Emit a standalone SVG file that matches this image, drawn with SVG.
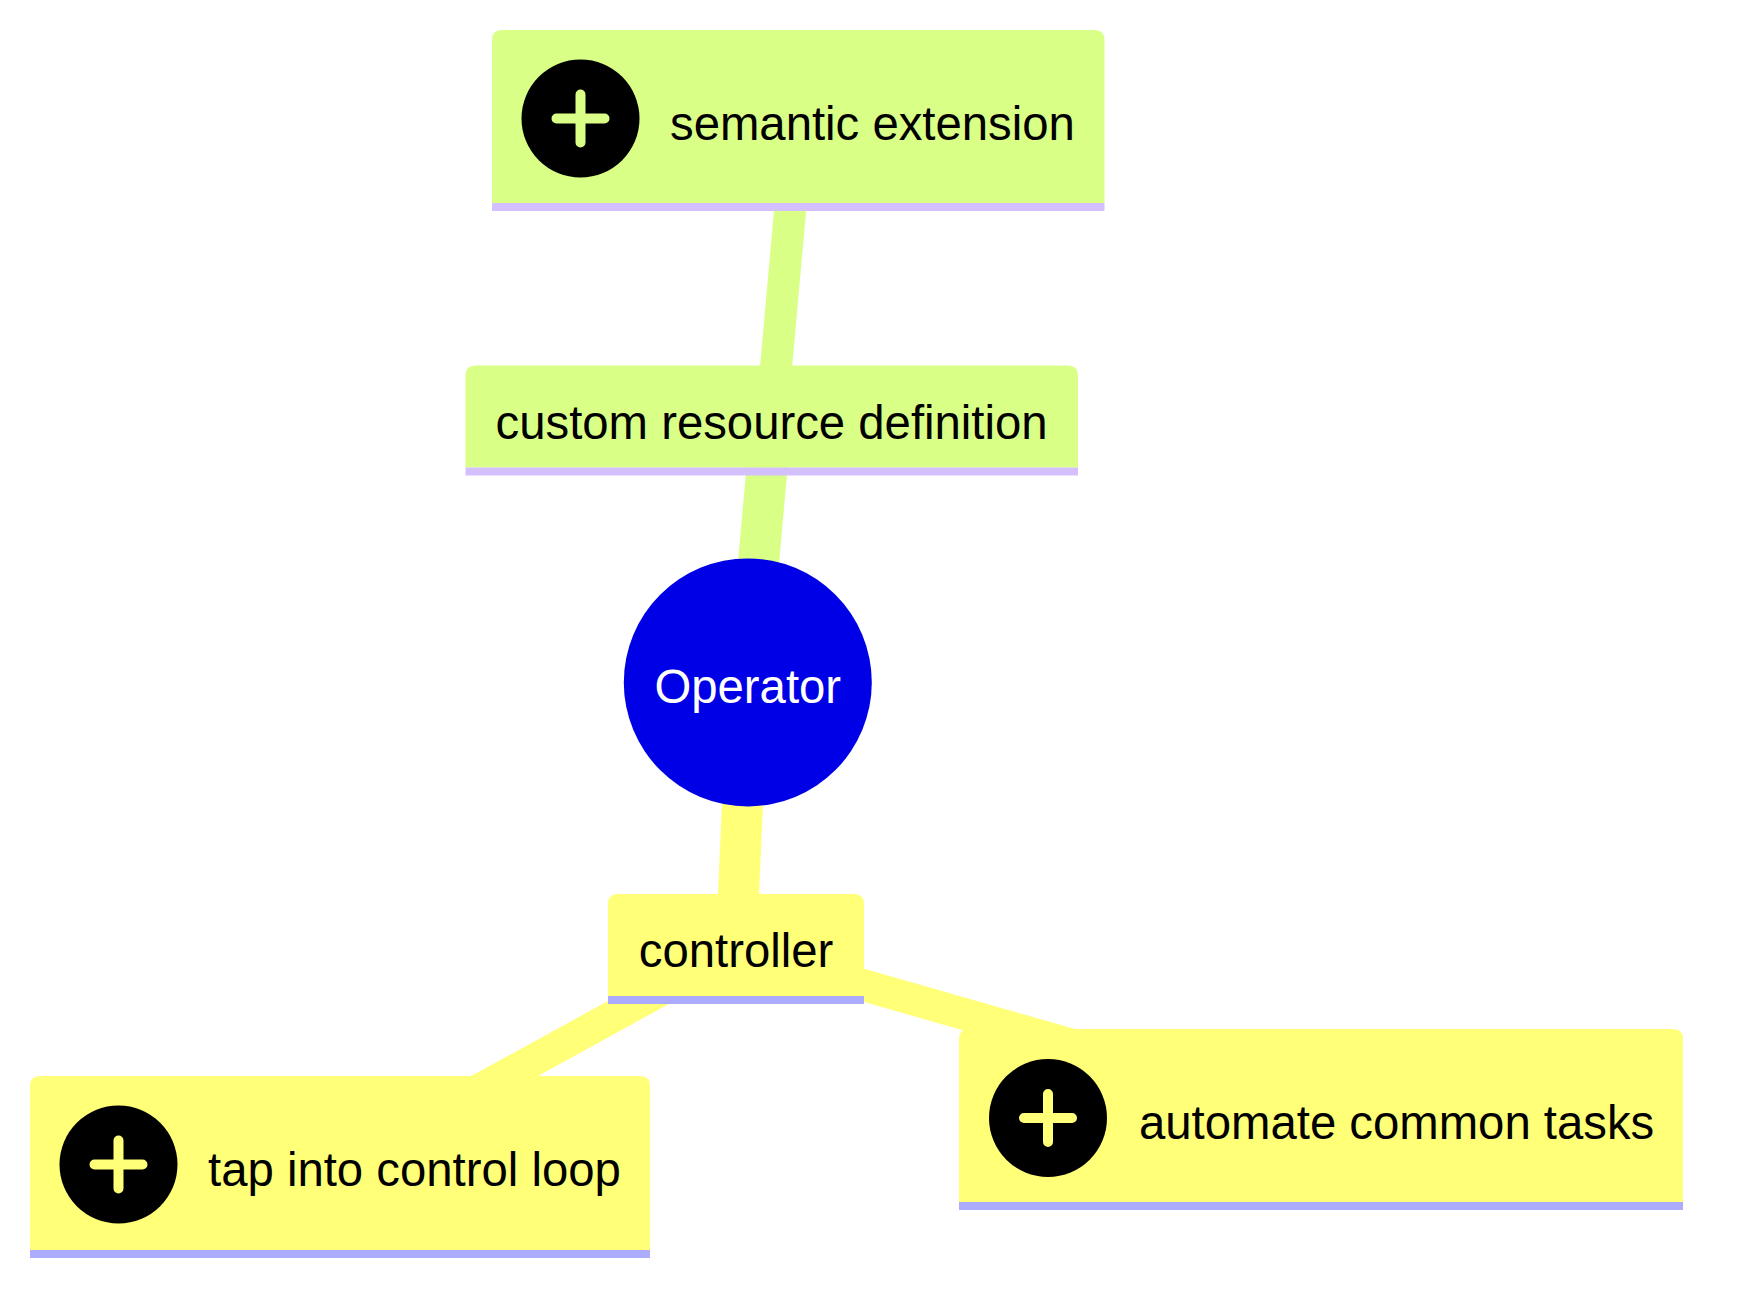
<svg xmlns="http://www.w3.org/2000/svg" width="1737" height="1302" viewBox="0 0 1737 1302">
<style>
  .lbl { font-family: "Liberation Sans", Arial, sans-serif; font-size: 47.3px; fill: #000000; }
  .root-lbl { fill: #ffffff; text-anchor: middle; }
  .g-fill { fill: #d9ff86; }
  .g-band { fill: #d4bfff; }
  .y-fill { fill: #ffff78; }
  .y-band { fill: #acacff; }
  .edge-g { stroke: #d9ff86; fill: none; }
  .edge-y { stroke: #ffff78; fill: none; }
  .plus { stroke-linecap: round; stroke-width: 10; }
</style>
<defs>
  <g id="plusIcon">
    <circle cx="0" cy="0" r="59" fill="#000000"/>
  </g>
</defs>
<rect width="1737" height="1302" fill="#ffffff"/>
<g id="connectors">
  <line class="edge-g" x1="771.6" y1="416.5" x2="798.2" y2="120.2" stroke-width="32"/>
  <line class="edge-g" x1="747.8" y1="682.4" x2="771.6" y2="416.5" stroke-width="41"/>
  <line class="edge-y" x1="747.8" y1="682.4" x2="736.1" y2="948.8" stroke-width="41"/>
  <line class="edge-y" x1="736.1" y1="948.8" x2="340" y2="1166.5" stroke-width="32"/>
  <line class="edge-y" x1="736.1" y1="948.8" x2="1321" y2="1116" stroke-width="32"/>
</g>
<g id="node-semantic">
  <path class="g-fill" d="M492,203 V40 Q492,30 502,30 H1094.5 Q1104.5,30 1104.5,40 V203 Z"/>
  <rect class="g-band" x="492" y="203" width="612.5" height="8"/>
  <use href="#plusIcon" x="580.5" y="118.5"/>
  <path class="plus" stroke="#d9ff86" d="M556.5,118.5 H604.5 M580.5,94.5 V142.5"/>
  <text class="lbl" x="670" y="140">semantic extension</text>
</g>
<g id="node-crd">
  <path class="g-fill" d="M465.5,467.5 V375.5 Q465.5,365.5 475.5,365.5 H1068 Q1078,365.5 1078,375.5 V467.5 Z"/>
  <rect class="g-band" x="465.5" y="467.5" width="612.5" height="8"/>
  <text class="lbl" x="771.6" y="439" text-anchor="middle">custom resource definition</text>
</g>
<g id="node-operator">
  <circle cx="747.8" cy="682.4" r="124" fill="#0000e6"/>
  <text class="lbl root-lbl" x="747.8" y="703">Operator</text>
</g>
<g id="node-controller">
  <path class="y-fill" d="M608,996 V904 Q608,894 618,894 H854 Q864,894 864,904 V996 Z"/>
  <rect class="y-band" x="608" y="996" width="256" height="8"/>
  <text class="lbl" x="736" y="967" text-anchor="middle">controller</text>
</g>
<g id="node-tap">
  <path class="y-fill" d="M30,1250 V1086 Q30,1076 40,1076 H640 Q650,1076 650,1086 V1250 Z"/>
  <rect class="y-band" x="30" y="1250" width="620" height="8"/>
  <use href="#plusIcon" x="118.5" y="1164.5"/>
  <path class="plus" stroke="#ffff78" d="M94.5,1164.5 H142.5 M118.5,1140.5 V1188.5"/>
  <text class="lbl" x="208" y="1186">tap into control loop</text>
</g>
<g id="node-automate">
  <path class="y-fill" d="M959,1202 V1039 Q959,1029 969,1029 H1673 Q1683,1029 1683,1039 V1202 Z"/>
  <rect class="y-band" x="959" y="1202" width="724" height="8"/>
  <use href="#plusIcon" x="1048" y="1118"/>
  <path class="plus" stroke="#ffff78" d="M1024,1118 H1072 M1048,1094 V1142"/>
  <text class="lbl" x="1139" y="1139">automate common tasks</text>
</g>
</svg>
